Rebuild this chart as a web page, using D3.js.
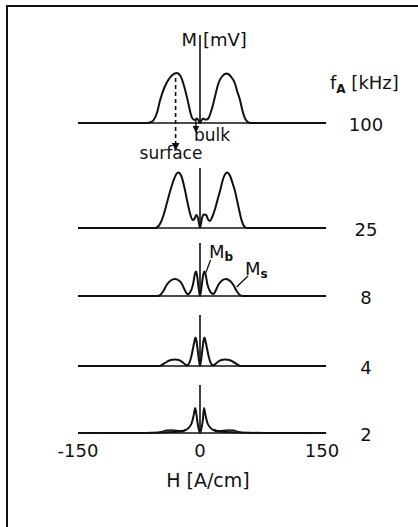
<!DOCTYPE html>
<html>
<head>
<meta charset="utf-8">
<script src="https://cdn.jsdelivr.net/npm/d3@7"></script>
<style>
  html, body { margin: 0; padding: 0; background: #fff; }
  svg text { font-family: "DejaVu Sans", "Liberation Sans", sans-serif; fill: #111; }
</style>
</head>
<body>
<svg id="chart" width="418" height="527"></svg>
<script>
// frequencies of the stacked traces (kHz), top to bottom
const fA = [100, 25, 8, 4, 2];

// M(H) traces, [H in A/cm, M in units of the 100 kHz peak]
const trace100 = [[-150,0],[-66,0],[-60,0.02],[-57,0.06],[-53,0.2],[-49,0.46],[-44,0.7],[-39,0.86],[-34,0.96],[-28.5,1.0],[-24,0.94],[-20.5,0.79],[-17,0.58],[-14.3,0.39],[-12,0.22],[-10.2,0.12],[-8,0.07],[-6,0.06],[-4,0.09],[-2,0.06],[0,0],[2,0.06],[4,0.09],[6,0.07],[8,0.07],[10.2,0.09],[13,0.2],[16.4,0.39],[19.5,0.6],[22.6,0.79],[27,0.93],[32.8,0.99],[38,0.93],[43,0.79],[46,0.62],[49.2,0.46],[52,0.26],[55.4,0.09],[58,0.03],[62,0],[155,0]];
const trace25 = [[-150,0],[-55,0],[-51,0.04],[-48,0.12],[-45,0.25],[-41,0.48],[-37,0.72],[-33,0.93],[-29,1.08],[-26.7,1.11],[-23,1.04],[-18.5,0.76],[-15.5,0.52],[-13,0.34],[-11,0.22],[-9,0.16],[-7,0.18],[-4.5,0.26],[-2.5,0.2],[0,0],[2.5,0.2],[5,0.27],[7.5,0.26],[10,0.17],[12.3,0.14],[15,0.22],[18.5,0.38],[21.5,0.56],[24.6,0.74],[28,0.96],[31,1.08],[33.6,1.11],[37,1.04],[40,0.9],[43,0.74],[46,0.52],[48.4,0.34],[51,0.16],[53.3,0.06],[56,0.01],[58,0],[155,0]];
const trace8 = [[-150,0],[-52,0],[-49,0.02],[-45,0.1],[-41,0.22],[-36,0.31],[-30.7,0.34],[-26,0.31],[-22.5,0.25],[-19,0.13],[-16.4,0.05],[-14,0.04],[-12,0.08],[-10.2,0.14],[-8,0.28],[-6.3,0.44],[-4.9,0.49],[-3.5,0.4],[-2,0.2],[0,0],[2,0.2],[3.7,0.4],[5.3,0.49],[7,0.42],[9,0.24],[11.5,0.12],[14,0.06],[16.4,0.04],[19,0.1],[22.5,0.22],[27,0.31],[32,0.34],[37,0.3],[41,0.22],[45,0.1],[49,0.02],[53,0],[155,0]];
const trace4 = [[-150,0],[-50,0],[-46,0.03],[-41,0.08],[-36,0.12],[-30.7,0.13],[-26,0.12],[-21,0.07],[-17,0.02],[-15,0.02],[-13,0.07],[-11.5,0.14],[-10,0.24],[-8.5,0.36],[-7,0.48],[-5.5,0.57],[-4.5,0.52],[-3,0.34],[-1.5,0.14],[0,0],[1.5,0.14],[3,0.34],[4.5,0.52],[5.5,0.57],[7,0.48],[8.5,0.36],[10,0.24],[11.5,0.14],[13,0.07],[15,0.02],[17,0.02],[21,0.07],[26,0.12],[31,0.13],[36,0.12],[41,0.08],[46,0.03],[50,0],[155,0]];
const trace2 = [[-150,0],[-80,0],[-50,0.01],[-35,0.02],[-25,0.03],[-20,0.04],[-16.4,0.07],[-13,0.12],[-10.2,0.2],[-8.5,0.3],[-7,0.42],[-6,0.5],[-5,0.44],[-3.5,0.26],[-2,0.11],[0,0],[2,0.11],[3.5,0.26],[4.9,0.5],[6,0.42],[7.5,0.3],[9.2,0.2],[12,0.12],[15.4,0.07],[19,0.04],[24,0.03],[34,0.02],[50,0.01],[80,0],[155,0]];
// the small surface humps of the 2 kHz trace, drawn over the bulk tails
const surface2Left = [[-53,0],[-47,0.025],[-41,0.055],[-35,0.06],[-29,0.05],[-23,0.045],[-17,0.07]];
const surface2Right = [[17,0.07],[23,0.045],[29,0.05],[35,0.06],[41,0.055],[47,0.025],[53,0]];

const traces = [trace100, trace25, trace8, trace4, trace2];
// height of the M axis line above each baseline (same units)
const axisTop = [1.76, 1.2, 1.06, 1.02, 0.96];

const xTicks = [-150, 0, 150];
const xTickLabels = ["-150", "0", "150"];

// layout
const baselines = [123, 228, 296, 366, 433];
const unitPx = 50;

const svg = d3.select("#chart");
const x = d3.scaleLinear().domain([-150, 150]).range([78, 322]);

// frame: top and left rule only
svg.append("path")
  .attr("d", "M7,527 L7,6 L418,6")
  .attr("fill", "none")
  .attr("stroke", "#111")
  .attr("stroke-width", 2);

const rowScale = i => d3.scaleLinear().domain([0, 1]).range([baselines[i], baselines[i] - unitPx]);

const line = (y) => d3.line()
  .x(d => x(d[0]))
  .y(d => y(d[1]))
  .curve(d3.curveMonotoneX);

traces.forEach((tr, i) => {
  const y = rowScale(i);
  // baseline
  svg.append("line")
    .attr("x1", x(-150)).attr("x2", x(155))
    .attr("y1", y(0)).attr("y2", y(0))
    .attr("stroke", "#111").attr("stroke-width", 1.6);
  // M axis at H = 0
  svg.append("line")
    .attr("x1", x(0)).attr("x2", x(0))
    .attr("y1", y(0)).attr("y2", y(axisTop[i]))
    .attr("stroke", "#111").attr("stroke-width", 1.6);
  svg.append("path")
    .datum(tr)
    .attr("d", line(y))
    .attr("fill", "none")
    .attr("stroke", "#111")
    .attr("stroke-width", 2);
  // frequency label
  svg.append("text")
    .attr("x", 366).attr("y", baselines[i] + 8)
    .attr("text-anchor", "middle")
    .attr("font-size", 18)
    .text(fA[i]);
});

[surface2Left, surface2Right].forEach(s => {
  svg.append("path")
    .datum(s)
    .attr("d", line(rowScale(4)))
    .attr("fill", "none")
    .attr("stroke", "#111")
    .attr("stroke-width", 1.6);
});

// H axis tick labels and title
svg.selectAll("text.tick")
  .data(xTicks)
  .join("text")
  .attr("class", "tick")
  .attr("x", d => x(d))
  .attr("y", 457)
  .attr("text-anchor", "middle")
  .attr("font-size", 18)
  .text((d, i) => xTickLabels[i]);

svg.append("text")
  .attr("x", 208).attr("y", 487)
  .attr("text-anchor", "middle")
  .attr("font-size", 19)
  .text("H [A/cm]");

// M axis title
svg.append("text")
  .attr("x", 197).attr("y", 46)
  .attr("text-anchor", "end")
  .attr("font-size", 18)
  .text("M");
svg.append("text")
  .attr("x", 203).attr("y", 46)
  .attr("font-size", 18)
  .text("[mV]");

// f_A [kHz]
const fLabel = svg.append("text").attr("x", 330).attr("y", 89).attr("font-size", 18);
fLabel.append("tspan").text("f");
fLabel.append("tspan").attr("font-size", 12).attr("font-weight", "bold").attr("dy", 4).text("A");
fLabel.append("tspan").attr("dy", -4).text(" [kHz]");

// arrows
const defs = svg.append("defs");
defs.append("marker")
  .attr("id", "head")
  .attr("viewBox", "0 0 10 10")
  .attr("refX", 9).attr("refY", 5)
  .attr("markerWidth", 5).attr("markerHeight", 5)
  .attr("orient", "auto")
  .append("path")
  .attr("d", "M0,0 L10,5 L0,10 Z")
  .attr("fill", "#111");

svg.append("line")
  .attr("x1", x(-30)).attr("x2", x(-30))
  .attr("y1", 78).attr("y2", 150)
  .attr("stroke", "#111").attr("stroke-width", 1.6)
  .attr("stroke-dasharray", "4,3")
  .attr("marker-end", "url(#head)");
svg.append("text")
  .attr("x", 171).attr("y", 159)
  .attr("text-anchor", "middle")
  .attr("font-size", 17)
  .text("surface");

svg.append("line")
  .attr("x1", x(-5)).attr("x2", x(-5))
  .attr("y1", 120).attr("y2", 132)
  .attr("stroke", "#111").attr("stroke-width", 1.4)
  .attr("marker-end", "url(#head)");
svg.append("text")
  .attr("x", 194).attr("y", 141)
  .attr("font-size", 17)
  .text("bulk");

// M_b and M_s leaders
svg.append("line")
  .attr("x1", x(7)).attr("x2", x(13))
  .attr("y1", 273).attr("y2", 260)
  .attr("stroke", "#111").attr("stroke-width", 1.3);
const mb = svg.append("text").attr("x", 209).attr("y", 258).attr("font-size", 18);
mb.append("tspan").text("M");
mb.append("tspan").attr("font-size", 12).attr("font-weight", "bold").attr("dy", 3).text("b");

svg.append("line")
  .attr("x1", x(45)).attr("x2", x(59))
  .attr("y1", 287).attr("y2", 276)
  .attr("stroke", "#111").attr("stroke-width", 1.3);
const ms = svg.append("text").attr("x", 245).attr("y", 275).attr("font-size", 18);
ms.append("tspan").text("M");
ms.append("tspan").attr("font-size", 12).attr("font-weight", "bold").attr("dy", 3).text("s");
</script>
</body>
</html>
